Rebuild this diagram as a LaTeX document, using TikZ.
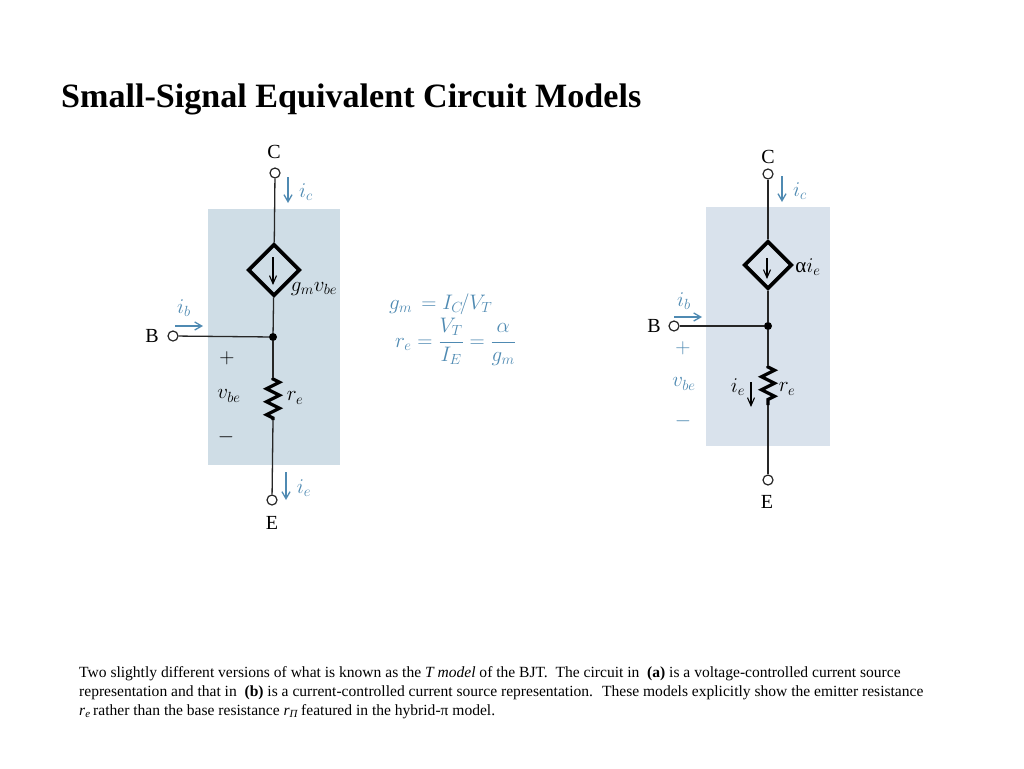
\documentclass[tikz,border=0pt]{standalone}
\usepackage{fix-cm}
\usepackage{fontspec}
\setmainfont{Liberation Serif}
\usetikzlibrary{shapes.geometric,arrows.meta,decorations.pathmorphing}
\definecolor{shadeleft}{HTML}{CFDDE6}
\definecolor{shaderight}{HTML}{D9E2EC}
\definecolor{signalblue}{HTML}{4F8AB2}
\newcommand{\sz}[1]{\fontsize{#1}{#1}\selectfont}
\begin{document}
\begin{tikzpicture}[
        x=1pt, y=-1pt,
        wire/.style={draw=black!85, line width=1.3pt},
        terminal/.style={shape=circle, draw=black!85, line width=1.2pt, fill=white, inner sep=0pt, minimum size=10pt},
        junction/.style={shape=circle, fill=black, inner sep=0pt, minimum size=8pt},
        source/.style={shape=diamond, draw=black, line width=3.6pt, inner sep=0pt, aspect=1},
        resistor/.style={draw=black, line width=3.2pt, decorate, decoration={zigzag, segment length=13pt, amplitude=6.5pt, pre length=1pt, post length=1pt}},
        current/.style={draw=signalblue, line width=1.3pt, -{Straight Barb[length=7pt,width=8pt]}},
        inner/.style={draw=black, line width=1.1pt, -{Straight Barb[length=8pt,width=7pt]}},
        pin/.style={font=\sz{20}},
        blue label/.style={text=signalblue, font=\sz{21}},
        black label/.style={text=black, font=\sz{21}}
    ]
        \useasboundingbox (0,0) rectangle (1024,768);

        % shaded boxes
        \fill[shadeleft] (208,209) rectangle (340,465);
        \fill[shaderight] (706,207) rectangle (830,446);

        \node[anchor=base west, inner sep=0pt, font=\sz{34.1}\bfseries] (title) at (61,107) {Small-Signal Equivalent Circuit Models};

        % circuit (a)
        \node[terminal] (Ca) at (275,173) {};
        \node[source, minimum size=52pt] (Ga) at (274,270) {};
        \node[junction] (Ja) at (273,337) {};
        \node[terminal] (Ba) at (173,336) {};
        \node[terminal] (Ea) at (272,500) {};
        \coordinate (Rta) at (273,378);
        \coordinate (Rba) at (273,420);

        \draw[wire] (Ca) -- (Ga);
        \draw[wire] (Ga) -- (Ja);
        \draw[wire] (Ba) -- (Ja);
        \draw[wire] (Ja) -- (Rta);
        \draw[wire] (Rba) -- (Ea);
        \draw[resistor] (Rta) -- (Rba);

        \node[pin] (Cla) at (274,152) {C};
        \node[pin] (Bla) at (152,336) {B};
        \node[pin] (Ela) at (272,523) {E};

        \coordinate (icta) at (288,177);
        \coordinate (icba) at (288,203);
        \coordinate (ibta) at (175,326);
        \coordinate (ibba) at (203,326);
        \coordinate (ieta) at (286,472);
        \coordinate (ieba) at (286,500);
        \coordinate (gta) at (273,257);
        \coordinate (gba) at (273,285);
        \draw[current] (icta) -- (icba);
        \draw[current] (ibta) -- (ibba);
        \draw[current] (ieta) -- (ieba);
        \draw[inner] (gta) -- (gba);

        \node[blue label] (ica) at (306,192) {$i_c$};
        \node[blue label] (iba) at (184,308) {$i_b$};
        \node[blue label] (iea) at (304,488) {$i_e$};
        \node[black label] (gma) at (314,289) {$g_m v_{be}$};
        \node[black label] (rea) at (295,398) {$r_e$};
        \node[black label] (vba) at (229,396) {$v_{be}$};
        \node[black label] (pla) at (227,358) {$+$};
        \node[black label] (mia) at (226,437) {$-$};

        % formulas
        \node[blue label, anchor=base west, inner sep=0pt] (gmeq) at (389,309) {$g_m\,= I_C\!/V_T$};
        \node[blue label, anchor=west, inner sep=0pt] (reeq) at (395,342) {$\displaystyle r_e=\frac{V_T}{I_E}=\frac{\alpha}{g_m}$};

        % circuit (b)
        \node[terminal] (Cb) at (768,174) {};
        \node[source, minimum size=48pt] (Gb) at (768,265) {};
        \node[junction] (Jb) at (768,326) {};
        \node[terminal] (Bb) at (674,326) {};
        \node[terminal] (Eb) at (768,480) {};
        \coordinate (Rtb) at (768,366);
        \coordinate (Rbb) at (768,405);

        \draw[wire] (Cb) -- (Gb);
        \draw[wire] (Gb) -- (Jb);
        \draw[wire] (Bb) -- (Jb);
        \draw[wire] (Jb) -- (Rtb);
        \draw[wire] (Rbb) -- (Eb);
        \draw[resistor] (Rtb) -- (Rbb);

        \node[pin] (Clb) at (768,157) {C};
        \node[pin] (Blb) at (654,326) {B};
        \node[pin] (Elb) at (767,502) {E};

        \coordinate (ictb) at (782,176);
        \coordinate (icbb) at (782,202);
        \coordinate (ibtb) at (674,317);
        \coordinate (ibbb) at (702,317);
        \coordinate (ietb) at (751,382);
        \coordinate (iebb) at (751,407);
        \coordinate (gtb) at (767,258);
        \coordinate (gbb) at (767,279);
        \draw[current] (ictb) -- (icbb);
        \draw[current] (ibtb) -- (ibbb);
        \draw[inner] (ietb) -- (iebb);
        \draw[inner] (gtb) -- (gbb);

        \node[blue label] (icb) at (800,191) {$i_c$};
        \node[blue label] (ibb) at (684,301) {$i_b$};
        \node[black label] (ieb) at (738,387) {$i_e$};
        \node[black label] (aib) at (808,267) {α$i_e$};
        \node[black label] (reb) at (787,389) {$r_e$};
        \node[blue label] (vbb) at (684,384) {$v_{be}$};
        \node[blue label] (plb) at (683,348) {$+$};
        \node[blue label] (mib) at (683,421) {$-$};

        % caption
        \node[anchor=north west, align=left, inner sep=0pt, font=\fontsize{15.55}{19.2}\selectfont] (caption) at (79,666) {%
            Two slightly different versions of what is known as the \textit{T model} of the BJT.~ The circuit in~ \textbf{(a)} is a voltage-controlled current source\\
            representation and that in~ \textbf{(b)} is a current-controlled current source representation.~ These models explicitly show the emitter resistance\\
            \textit{r}\textsubscript{\textit{e}}\,rather than the base resistance \textit{r}\textsubscript{\textit{Π}}\,featured in the hybrid-π model.};

    \end{tikzpicture}
\end{document}
